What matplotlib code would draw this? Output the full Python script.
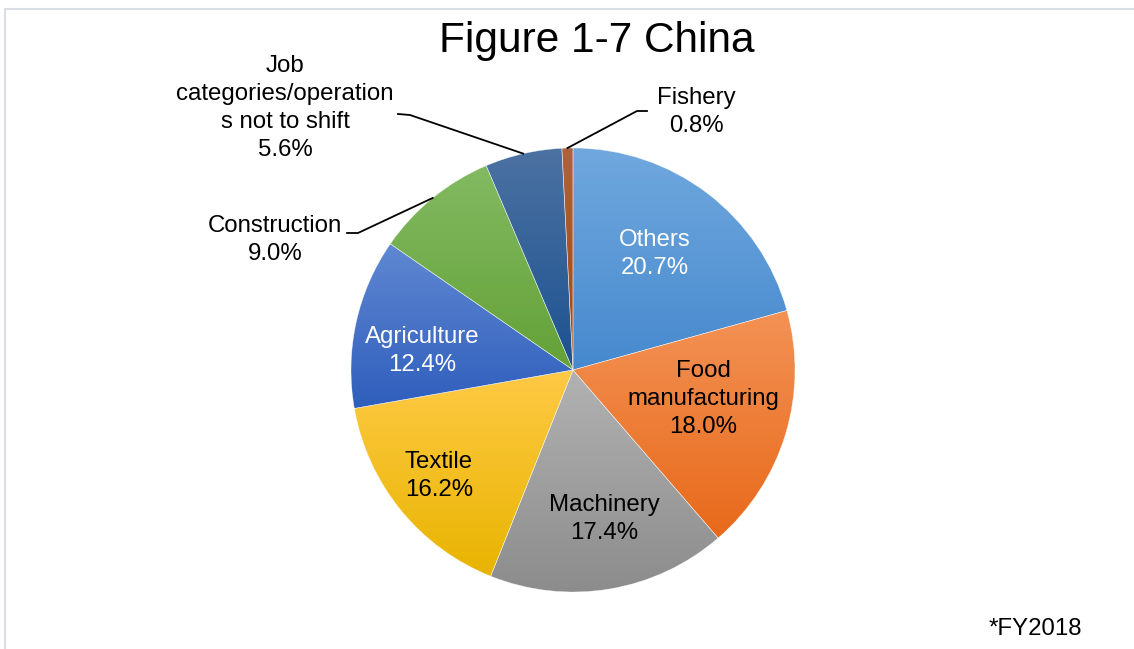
import numpy as np
import matplotlib
matplotlib.use("Agg")
import matplotlib.pyplot as plt
from matplotlib.colors import to_rgb
from matplotlib.patches import Rectangle

# ===== DATA =====
labels = ["Others", "Food\nmanufacturing", "Machinery", "Textile", "Agriculture",
          "Construction", "Job\ncategories/operation\ns not to shift", "Fishery"]
shares = [20.7, 18.0, 17.4, 16.2, 12.4, 9.0, 5.6, 0.8]
title = "Figure 1-7 China"
note = "*FY2018"

# gradient colours per slice (top, bottom)
grad_top = ["#70A8DE", "#F39255", "#B2B2B2", "#FFCA45", "#6088D2", "#82BA62", "#4C72A2", "#AE6240"]
grad_bot = ["#4689CE", "#E8691A", "#8C8C8C", "#E8B400", "#2F5EBC", "#64A137", "#1C5290", "#A0480E"]
text_col = ["white", "black", "black", "black", "white", "black", "black", "black"]

# ===== LAYOUT (pixels of the 1134x649 picture) =====
W, H = 1134, 649
CX, CY, R = 573, 370, 222
inside_pos = {0: (655, 254), 1: (703, 399), 2: (604, 519), 3: (439, 476), 4: (422, 351)}
# outside labels: text centre, elbow point, line end near text
outside = {5: ((275, 240), (358, 233), (347, 233)),
           6: ((285, 108), (410, 115), (398, 114)),
           7: ((696, 112), (637, 111), (647, 111))}

FONT = ["Liberation Sans", "DejaVu Sans"]
plt.rcParams["font.family"] = FONT
LS = 1.34


def to_data(px, py):
    return (px - CX) / R, (CY - py) / R


fig = plt.figure(figsize=(W / 100, H / 100), dpi=100)
fig.patches.append(Rectangle((5 / W, -0.2), 1.2, 1.2 - 9.5 / H, transform=fig.transFigure,
                             fill=False, edgecolor="#D9DEE6", lw=1.5))

ax = fig.add_axes([(CX - R) / W, (H - CY - R) / H, 2 * R / W, 2 * R / H])

wedges, _ = ax.pie(shares, startangle=90, counterclock=False, radius=1, center=(0, 0),
                   wedgeprops=dict(linewidth=0.4, edgecolor=(1, 1, 1, 0.6)))

for i, w in enumerate(wedges):
    w.set_facecolor("none")
    w.set_zorder(3)
    bb = w.get_path().get_extents()
    t = np.linspace(0, 1, 256)[:, None, None]
    grad = (1 - t) * np.array(to_rgb(grad_top[i])) + t * np.array(to_rgb(grad_bot[i]))
    img = ax.imshow(grad, extent=(bb.x0, bb.x1, bb.y0, bb.y1), origin="upper",
                    aspect="auto", interpolation="bilinear", zorder=2)
    img.set_clip_path(w)

# inside labels
for i, (px, py) in inside_pos.items():
    x, y = to_data(px, py)
    ax.text(x, y, f"{labels[i]}\n{shares[i]:.1f}%", ha="center", va="center",
            fontsize=17.3, color=text_col[i], linespacing=LS, zorder=5)

# outside labels with leader lines
for i, (tpos, elbow, lend) in outside.items():
    theta = np.deg2rad((wedges[i].theta1 + wedges[i].theta2) / 2)
    edge = (np.cos(theta), np.sin(theta))
    ex, ey = to_data(*elbow)
    lx, ly = to_data(*lend)
    ax.plot([edge[0], ex, lx], [edge[1], ey, ly], color="black", lw=1.3,
            clip_on=False, zorder=4)
    x, y = to_data(*tpos)
    ax.text(x, y, f"{labels[i]}\n{shares[i]:.1f}%", ha="center", va="center",
            fontsize=17.3, color="black", linespacing=LS, clip_on=False)

ax.set_xlim(-1, 1)
ax.set_ylim(-1, 1)
ax.axis("off")

fig.text(597 / W, 1 - 41 / H, title, ha="center", va="center", fontsize=30.5)
fig.text(1082 / W, 1 - 629 / H, note, ha="right", va="center", fontsize=17.3)

fig.savefig("out.png", dpi=100)
